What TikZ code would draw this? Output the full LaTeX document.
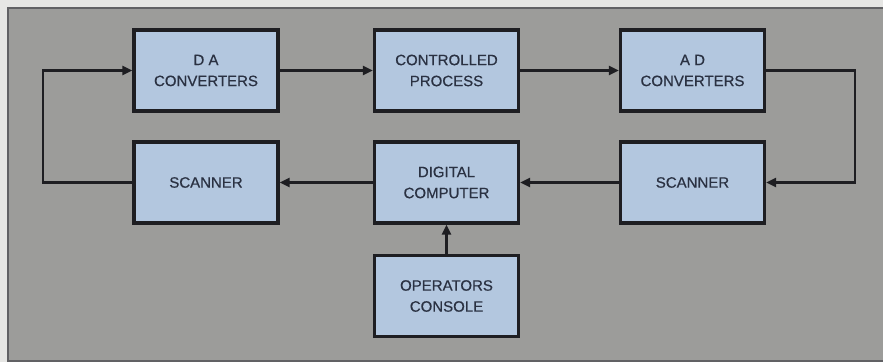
\documentclass[tikz,border=0pt]{standalone}
\usepackage{fontspec}
\setmainfont{Liberation Sans}
\newfontfamily\blkfont[FakeBold=0.6]{Liberation Sans}
\usetikzlibrary{arrows.meta}
\definecolor{bgout}{HTML}{E6E6E4}
\definecolor{panel}{HTML}{9C9C9A}
\definecolor{boxfill}{HTML}{B3C7DF}
\definecolor{ink}{HTML}{1E1E22}
\definecolor{txt}{HTML}{2A3142}
\tikzset{
  blk/.style={draw=ink, line width=3.2pt, fill=boxfill, minimum width=144pt, minimum height=81pt,
    inner sep=0pt, align=center, text=txt, font=\blkfont\fontsize{15}{21}\selectfont},
  conn/.style={draw=ink, line width=2.2pt, -{Triangle[length=10pt,width=9pt]}},
}
\begin{document}
\begin{tikzpicture}[x=1pt,y=-1pt]
\useasboundingbox (0,0) rectangle (883,362);
\fill[bgout] (0,0) rectangle (883,362);
\draw[ink!70, line width=1.5pt, fill=panel] (8,8) rectangle (890,361);
\node[blk] (da) at (206,70.5) {D A\\CONVERTERS};
\node[blk] (cp) at (446.5,70.5) {CONTROLLED\\PROCESS};
\node[blk] (ad) at (692.5,70.5) {A D\\CONVERTERS};
\node[blk] (sl) at (206,182.5) {SCANNER};
\node[blk] (dc) at (446.5,182.5) {DIGITAL\\COMPUTER};
\node[blk] (sr) at (692.5,182.5) {SCANNER};
\node[blk] (oc) at (446.5,296) {OPERATORS\\CONSOLE};
\coordinate (r1) at (855,70.5);
\coordinate (r2) at (855,182.5);
\coordinate (l1) at (43,182.5);
\coordinate (l2) at (43,70.5);
\draw[conn] (da) -- (cp);
\draw[conn] (cp) -- (ad);
\draw[conn] (ad.east) -- (r1) -- (r2) -- (sr.east);
\draw[conn] (sr) -- (dc);
\draw[conn] (dc) -- (sl);
\draw[conn] (sl.west) -- (l1) -- (l2) -- (da.west);
\draw[conn] (oc) -- (dc);
\end{tikzpicture}
\end{document}
